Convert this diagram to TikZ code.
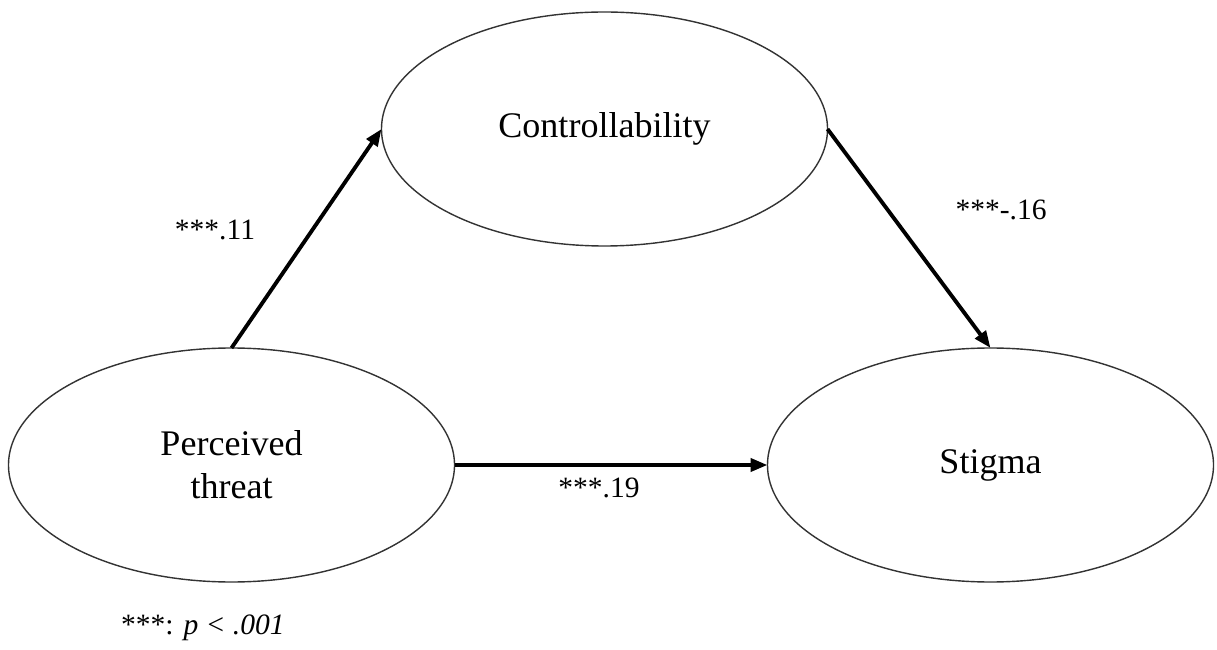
\documentclass[tikz,border=0pt]{standalone}
\usepackage{fontspec}
\setmainfont{Liberation Serif}
\usetikzlibrary{arrows.meta, shapes.geometric}
\definecolor{latedge}{HTML}{333333}
\definecolor{pathedge}{HTML}{000000}

\begin{document}
\begin{tikzpicture}[
  lat/.style={ellipse, draw=latedge, line width=0.8pt, minimum width=8.92cm,
              minimum height=4.68cm, inner sep=0pt, outer sep=0pt, align=center,
              font=\fontsize{20.5}{24.5}\selectfont},
  pth/.style={draw=pathedge, line width=2.2pt, -{Triangle[length=3.4mm, width=2.6mm]}},
  lab/.style={font=\fontsize{16.8}{20}\selectfont},
]
\useasboundingbox (0,0) rectangle (24.34,-13);
\node[lat] (threat) at ( 4.63,-9.30) {Perceived\\threat};
\node[lat] (control) at (12.09,-2.58) {Controllability};
\node[lat] (stigma) at (19.81,-9.30) {Stigma};
\draw[pth] (threat.north) -- (control.west);
\draw[pth] (control.east) -- (stigma.north);
\draw[pth] (threat.east) -- (stigma.west);
% path coefficients
\node[lab] (coefa) at ( 4.30,-4.60) {***.11};
\node[lab] (coefb) at (20.02,-4.20) {***-.16};
\node[lab] (coefc) at (11.98,-9.76) {***.19};
\node[lab, anchor=west] (note) at (2.30,-12.56) {***: \textit{p < .001}};
\end{tikzpicture}
\end{document}
